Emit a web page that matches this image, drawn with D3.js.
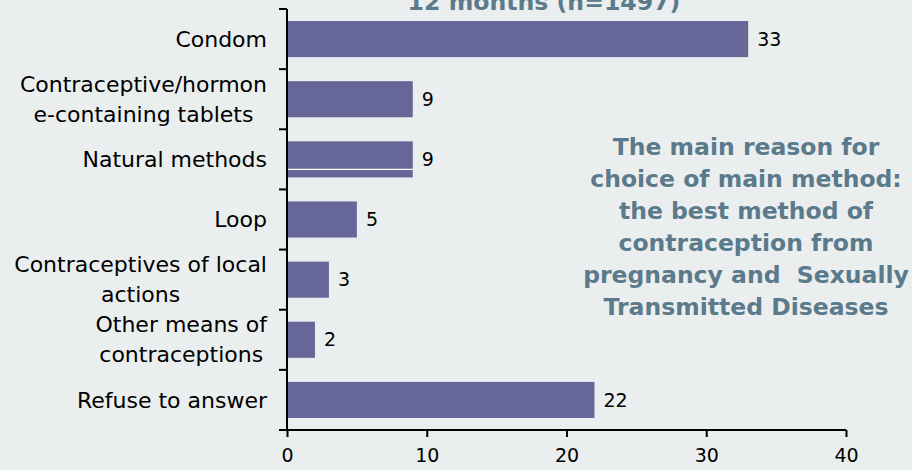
<!DOCTYPE html>
<html>
<head>
<meta charset="utf-8">
<script src="https://cdn.jsdelivr.net/npm/d3@7"></script>
<style>
  html, body { margin: 0; padding: 0; background: #eaeeee; }
  svg { display: block; font-family: "DejaVu Sans", Verdana, sans-serif; }
</style>
</head>
<body>
<svg id="chart" width="912" height="470"></svg>
<script>
// chart data
const categories = [
  ["Condom"],
  ["Contraceptive/hormon", "e-containing tablets"],
  ["Natural methods"],
  ["Loop"],
  ["Contraceptives of local", "actions"],
  ["Other means of", "contraceptions"],
  ["Refuse to answer"]
];
const values = [33, 9, 9, 5, 3, 2, 22];
const xTicks = [0, 10, 20, 30, 40];
const titleText = "12 months (n=1497)";
const noteLines = [
  "The main reason for",
  "choice of main method:",
  "the best method of",
  "contraception from",
  "pregnancy and\u00a0 Sexually",
  "Transmitted Diseases"
];

const svg = d3.select("#chart"),
      width = +svg.attr("width"),
      height = +svg.attr("height");

const margin = {top: 9, left: 287, right: 66, bottom: 40};
const barColor = "#666699",
      noteColor = "#5b7a8b";

svg.append("rect")
  .attr("width", width)
  .attr("height", height)
  .attr("fill", "#eaeeee");

const x = d3.scaleLinear()
  .domain([0, 40])
  .range([margin.left, width - margin.right]);

const y = d3.scaleBand()
  .domain(d3.range(categories.length))
  .range([margin.top, height - margin.bottom])
  .paddingInner(0.4)
  .paddingOuter(0.2);

// bars
svg.append("g")
  .selectAll("rect")
  .data(values)
  .enter().append("rect")
  .attr("x", x(0))
  .attr("y", (d, i) => y(i))
  .attr("width", (d) => x(d) - x(0))
  .attr("height", y.bandwidth())
  .attr("fill", barColor);

// thin light seam that shows inside the "Natural methods" bar
svg.append("line")
  .attr("x1", x(0))
  .attr("x2", x(values[2]))
  .attr("y1", y(2) + y.bandwidth() * 0.78)
  .attr("y2", y(2) + y.bandwidth() * 0.78)
  .attr("stroke", "#ffffff")
  .attr("stroke-width", 1.3);

// value labels
svg.append("g")
  .selectAll("text")
  .data(values)
  .enter().append("text")
  .attr("x", (d) => x(d) + 9)
  .attr("y", (d, i) => y(i) + y.bandwidth() / 2)
  .attr("dy", "0.35em")
  .attr("font-size", 19)
  .attr("fill", "#000")
  .text((d) => d);

// y axis: line with ticks between the categories
const yAxis = svg.append("g");
const bottom = height - margin.bottom;
yAxis.append("line")
  .attr("x1", x(0)).attr("x2", x(0))
  .attr("y1", margin.top).attr("y2", bottom)
  .attr("stroke", "#000").attr("stroke-width", 2);
const bounds = d3.range(categories.length).map((i) => y(i) - y.step() * y.paddingInner() / 2);
bounds[0] = margin.top;
bounds.push(bottom);
yAxis.selectAll("line.tick")
  .data(bounds)
  .enter().append("line")
  .attr("class", "tick")
  .attr("x1", x(0) - 8).attr("x2", x(0))
  .attr("y1", (d) => d).attr("y2", (d) => d)
  .attr("stroke", "#000").attr("stroke-width", 2);

// category labels, multi-line ones centred within a right-aligned block
const labelRight = x(0) - 20;
const labelGroups = svg.append("g")
  .selectAll("g")
  .data(categories)
  .enter().append("g");
labelGroups.each(function (lines, i) {
  const g = d3.select(this);
  const lh = 30;
  const cy = y(i) + y.bandwidth() / 2;
  const texts = g.selectAll("text")
    .data(lines)
    .enter().append("text")
    .attr("font-size", 22)
    .attr("fill", "#000")
    .attr("y", (d, j) => cy + (j - (lines.length - 1) / 2) * lh)
    .attr("dy", "0.35em")
    .text((d) => d);
  if (lines.length === 1) {
    texts.attr("x", labelRight).attr("text-anchor", "end");
  } else {
    let w = 0;
    texts.each(function () { w = Math.max(w, this.getComputedTextLength()); });
    texts.attr("x", labelRight - w / 2).attr("text-anchor", "middle");
  }
});

// x axis
const xAxis = svg.append("g")
  .attr("transform", "translate(0," + bottom + ")")
  .call(d3.axisBottom(x).tickValues(xTicks).tickSize(7).tickSizeOuter(0).tickPadding(12));
xAxis.select(".domain")
  .attr("d", "M" + (x(0) - 8) + ",0H" + x(40))
  .attr("stroke", "#000").attr("stroke-width", 2);
xAxis.selectAll(".tick line").attr("stroke", "#000").attr("stroke-width", 2);
xAxis.selectAll(".tick text")
  .attr("font-size", 19)
  .attr("font-family", "DejaVu Sans, Verdana, sans-serif")
  .attr("fill", "#000");

// title (only its last line shows at the top edge)
svg.append("text")
  .attr("x", 544)
  .attr("y", 10)
  .attr("text-anchor", "middle")
  .attr("font-size", 23.6)
  .attr("font-weight", "bold")
  .attr("fill", noteColor)
  .text(titleText);

// annotation
svg.append("text")
  .attr("text-anchor", "middle")
  .attr("font-size", 23.5)
  .attr("font-weight", "bold")
  .attr("fill", noteColor)
  .selectAll("tspan")
  .data(noteLines)
  .enter().append("tspan")
  .attr("x", 746)
  .attr("y", (d, i) => 147 + i * 32)
  .attr("dy", "0.35em")
  .text((d) => d);
</script>
</body>
</html>
